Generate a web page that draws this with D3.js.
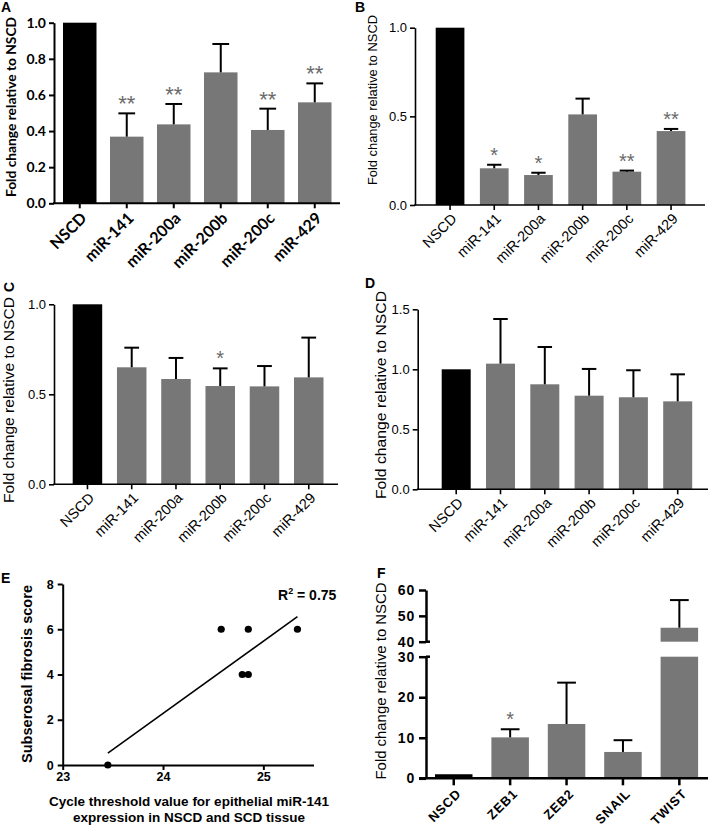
<!DOCTYPE html>
<html><head><meta charset="utf-8">
<script src="https://cdn.jsdelivr.net/npm/d3@7"></script>
<style>body{margin:0;background:#fff}svg{display:block}</style>
</head><body>
<svg id="chart" width="709" height="828"></svg>
<script>
// ---------- DATA ----------
const mirCats = ["NSCD", "miR-141", "miR-200a", "miR-200b", "miR-200c", "miR-429"];
const aMean = [1, 0.369, 0.437, 0.725, 0.406, 0.559];
const aSem  = [0, 0.129, 0.113, 0.157, 0.118, 0.105];
const aSig  = ["", "**", "**", "", "**", "**"];
const aTicks = [0, 0.2, 0.4, 0.6, 0.8, 1.0];

const bMean = [1, 0.207, 0.169, 0.511, 0.188, 0.417];
const bSem  = [0, 0.020, 0.013, 0.089, 0.006, 0.012];
const bSig  = ["", "*", "*", "", "**", "**"];
const bTicks = [0, 0.5, 1.0];

const cMean = [1, 0.650, 0.585, 0.546, 0.544, 0.594];
const cSem  = [0, 0.109, 0.117, 0.098, 0.113, 0.221];
const cSig  = ["", "", "", "*", "", ""];
const cTicks = [0, 0.5, 1.0];

const dMean = [1, 1.047, 0.875, 0.780, 0.767, 0.733];
const dSem  = [0, 0.372, 0.311, 0.223, 0.225, 0.225];
const dSig  = ["", "", "", "", "", ""];
const dTicks = [0, 0.5, 1.0, 1.5];

const eCt    = [23.45, 24.58, 24.79, 24.85, 24.85, 25.34];
const eScore = [0, 6, 4, 4, 6, 6];
const eXTicks = [23, 24, 25];
const eYTicks = [0, 2, 4, 6, 8];

const fCats = ["NSCD", "ZEB1", "ZEB2", "SNAIL", "TWIST"];
const fMean = [1, 10.1, 13.4, 6.5, 45.4];
const fSem  = [0, 2.0, 10.2, 2.9, 10.7];
const fSig  = ["", "*", "", "", ""];
const fLowTicks = [0, 10, 20, 30];
const fHighTicks = [40, 50, 60];

// ---------- DRAW ----------
const svg = d3.select("#chart");
const GRAY = "#777777";
const ARIAL = "'Liberation Sans', Arial, Helvetica, sans-serif";
const GILL = "Lato, 'Open Sans', sans-serif";
const YLAB = "Fold change relative to NSCD";

function bandFor(cats, b0, step, w) {
  const pin = (step - w) / step;
  const start = b0 - (step - w) / 2;
  return d3.scaleBand().domain(cats).range([start, start + cats.length * step])
    .paddingInner(pin).paddingOuter(pin / 2);
}

function yLabel(g, x, y, len, font, weight, size, text) {
  g.append("text").attr("transform", `translate(${x},${y}) rotate(-90)`)
    .attr("text-anchor", "middle").attr("fill", "#000")
    .attr("textLength", len).attr("lengthAdjust", "spacingAndGlyphs")
    .style("font-family", font).style("font-weight", weight).style("font-size", size + "px")
    .text(text);
}

function barPanel(c) {
  const g = svg.append("g");
  const y = d3.scaleLinear().domain([0, c.max]).range([c.yBot, c.yTop]);
  const x = bandFor(c.cats, c.b0, c.step, c.w);
  g.selectAll("rect.bar").data(c.cats).join("rect")
    .attr("x", d => x(d)).attr("width", x.bandwidth())
    .attr("y", (d, i) => y(c.mean[i])).attr("height", (d, i) => y(0) - y(c.mean[i]))
    .attr("fill", (d, i) => i === 0 ? "#000" : GRAY);
  const items = c.cats.map((d, i) => ({d, i}));
  const eb = g.selectAll("g.eb").data(items.filter(o => c.sem[o.i] > 0)).join("g");
  eb.append("line")
    .attr("x1", o => x(o.d) + x.bandwidth() / 2).attr("x2", o => x(o.d) + x.bandwidth() / 2)
    .attr("y1", o => y(c.mean[o.i])).attr("y2", o => y(c.mean[o.i] + c.sem[o.i]))
    .attr("stroke", "#000").attr("stroke-width", c.ew);
  eb.append("line")
    .attr("x1", o => x(o.d) + x.bandwidth() * 0.25).attr("x2", o => x(o.d) + x.bandwidth() * 0.75)
    .attr("y1", o => y(c.mean[o.i] + c.sem[o.i])).attr("y2", o => y(c.mean[o.i] + c.sem[o.i]))
    .attr("stroke", "#000").attr("stroke-width", c.ew);
  g.selectAll("text.sig").data(items.filter(o => c.sig[o.i])).join("text")
    .attr("x", o => x(o.d) + x.bandwidth() / 2)
    .attr("y", o => y(c.mean[o.i] + c.sem[o.i]) + c.sigOff)
    .attr("text-anchor", "middle").attr("fill", "#6a6a6a")
    .style("font-family", ARIAL).style("font-size", c.sigSize + "px")
    .text(o => c.sig[o.i]);
  const ya = g.append("g").attr("transform", `translate(${c.x0},0)`)
    .call(d3.axisLeft(y).tickValues(c.ticks).tickFormat(d3.format(".1f")).tickSize(c.tl).tickSizeOuter(0).tickPadding(c.tp));
  ya.selectAll("path,line").attr("stroke", "#000").attr("stroke-width", c.aw);
  ya.selectAll("text").attr("fill", "#000").style("font-family", c.font).style("font-weight", c.tw)
    .style("font-size", c.ts + "px");
  const xa = g.append("g").attr("transform", `translate(0,${c.yBot})`)
    .call(d3.axisBottom(x).tickSize(c.tl).tickSizeOuter(0));
  xa.select("path").remove();
  xa.selectAll("line").attr("stroke", "#000").attr("stroke-width", c.aw);
  xa.selectAll("text").attr("x", 0).attr("y", 0).attr("dy", "0.35em")
    .attr("text-anchor", "end").attr("fill", "#000")
    .attr("transform", `translate(${c.lx},${c.ly}) rotate(-45)`)
    .style("font-family", c.font).style("font-weight", c.tw).style("font-size", c.xs + "px");
  g.append("line").attr("x1", c.x0 - c.aw / 2).attr("x2", c.xEnd).attr("y1", c.yBot).attr("y2", c.yBot)
    .attr("stroke", "#000").attr("stroke-width", c.aw);
  yLabel(g, c.labX, c.labY, c.labLen, c.font, c.lw, c.ls, YLAB);
  return g;
}

// Panel A
barPanel({cats: mirCats, mean: aMean, sem: aSem, sig: aSig, ticks: aTicks, max: 1,
  x0: 54, xEnd: 340, yTop: 22.7, yBot: 203.3, b0: 63, step: 47, w: 33.5,
  font: GILL, tw: 700, ts: 14, xs: 16, lw: 700, ls: 14, tl: 5, tp: 3, aw: 2, ew: 2,
  lx: 4, ly: 12, labX: 16, labY: 107, labLen: 180, sigSize: 22, sigOff: -2});
// Panel B
barPanel({cats: mirCats, mean: bMean, sem: bSem, sig: bSig, ticks: bTicks, max: 1,
  x0: 415, xEnd: 705, yTop: 27.7, yBot: 205, b0: 435.7, step: 44.2, w: 28.7,
  font: ARIAL, tw: 400, ts: 13, xs: 14.5, lw: 400, ls: 13, tl: 5, tp: 3, aw: 1.6, ew: 2,
  lx: 4, ly: 11, labX: 377, labY: 100, labLen: 170, sigSize: 20, sigOff: -3});
// Panel C
barPanel({cats: mirCats, mean: cMean, sem: cSem, sig: cSig, ticks: cTicks, max: 1,
  x0: 54, xEnd: 338, yTop: 304.3, yBot: 484.3, b0: 72.7, step: 44.26, w: 29.5,
  font: ARIAL, tw: 400, ts: 13, xs: 14.5, lw: 400, ls: 14, tl: 5, tp: 3, aw: 1.6, ew: 2,
  lx: 4, ly: 11, labX: 14, labY: 400, labLen: 206, sigSize: 20, sigOff: -3});
// Panel D
barPanel({cats: mirCats, mean: dMean, sem: dSem, sig: dSig, ticks: dTicks, max: 1.5,
  x0: 417.7, xEnd: 708, yTop: 309.3, yBot: 489.3, b0: 441.7, step: 44.3, w: 29,
  font: ARIAL, tw: 400, ts: 13, xs: 14.5, lw: 400, ls: 14.5, tl: 5, tp: 3, aw: 1.6, ew: 2,
  lx: 4, ly: 11, labX: 386, labY: 395, labLen: 208, sigSize: 20, sigOff: -3});

// Panel E (scatter with regression)
(function () {
  const g = svg.append("g");
  const x = d3.scaleLinear().domain([23, 25.5]).range([62.7, 313.5]);
  const y = d3.scaleLinear().domain([0, 8]).range([765, 584]);
  const n = eCt.length, mx = d3.mean(eCt), my = d3.mean(eScore);
  let sxy = 0, sxx = 0;
  for (let i = 0; i < n; i++) { sxy += (eCt[i] - mx) * (eScore[i] - my); sxx += (eCt[i] - mx) ** 2; }
  const slope = sxy / sxx, icpt = my - slope * mx;
  const [xmin, xmax] = d3.extent(eCt);
  g.append("line").attr("x1", x(xmin)).attr("x2", x(xmax))
    .attr("y1", y(icpt + slope * xmin)).attr("y2", y(icpt + slope * xmax))
    .attr("stroke", "#000").attr("stroke-width", 1.6);
  const ya = g.append("g").attr("transform", "translate(62.7,0)")
    .call(d3.axisLeft(y).tickValues(eYTicks).tickFormat(d3.format("d")).tickSize(5).tickSizeOuter(0).tickPadding(4));
  const xa = g.append("g").attr("transform", "translate(0,765)")
    .call(d3.axisBottom(x).tickValues(eXTicks).tickFormat(d3.format("d")).tickSize(5).tickSizeOuter(0).tickPadding(2));
  [ya, xa].forEach(a => {
    a.selectAll("path,line").attr("stroke", "#000").attr("stroke-width", 2);
    a.selectAll("text").attr("fill", "#000").style("font-family", ARIAL).style("font-weight", 700).style("font-size", "12.5px");
  });
  g.selectAll("circle").data(eCt).join("circle")
    .attr("cx", d => x(d)).attr("cy", (d, i) => y(eScore[i])).attr("r", 3.6).attr("fill", "#000");
  const r2 = g.append("text").attr("x", 278).attr("y", 600).attr("fill", "#000")
    .style("font-family", ARIAL).style("font-weight", 700).style("font-size", "14px");
  r2.append("tspan").text("R");
  r2.append("tspan").attr("dy", -6).style("font-size", "9px").text("2");
  r2.append("tspan").attr("dy", 6).text(" = 0.75");
  g.append("text").attr("x", 189).attr("y", 806).attr("text-anchor", "middle").attr("fill", "#000")
    .style("font-family", ARIAL).style("font-weight", 700).style("font-size", "13.5px")
    .text("Cycle threshold value for epithelial miR-141");
  g.append("text").attr("x", 189).attr("y", 821.5).attr("text-anchor", "middle").attr("fill", "#000")
    .style("font-family", ARIAL).style("font-weight", 700).style("font-size", "13.5px")
    .text("expression in NSCD and SCD tissue");
  yLabel(g, 32, 674, 178, ARIAL, 700, 14.5, "Subserosal fibrosis score");
})();

// Panel F (broken axis)
(function () {
  const g = svg.append("g");
  const ax = 426, yb = 778.3;
  const x = bandFor(fCats, 435, 56.4, 37.5);
  const yLow = d3.scaleLinear().domain([0, 30]).range([yb, 656.7]);
  const yHigh = d3.scaleLinear().domain([40, 60]).range([641.7, 590]);
  fCats.forEach((c, i) => {
    const m = fMean[i], top = m + fSem[i], cx = x(c) + x.bandwidth() / 2;
    const fill = i === 0 ? "#000" : GRAY;
    g.append("rect").attr("x", x(c)).attr("width", x.bandwidth())
      .attr("y", yLow(Math.min(m, 30))).attr("height", yLow(0) - yLow(Math.min(m, 30))).attr("fill", fill);
    const ys = m > 40 ? yHigh : yLow;
    if (m > 40) {
      g.append("rect").attr("x", x(c)).attr("width", x.bandwidth())
        .attr("y", yHigh(m)).attr("height", yHigh(40) - yHigh(m)).attr("fill", fill);
    }
    if (fSem[i] > 0) {
      g.append("line").attr("x1", cx).attr("x2", cx).attr("y1", ys(m)).attr("y2", ys(top))
        .attr("stroke", "#000").attr("stroke-width", 2);
      g.append("line").attr("x1", cx - x.bandwidth() * 0.25).attr("x2", cx + x.bandwidth() * 0.25)
        .attr("y1", ys(top)).attr("y2", ys(top)).attr("stroke", "#000").attr("stroke-width", 2);
    }
    if (fSig[i]) {
      g.append("text").attr("x", cx).attr("y", ys(top) - 3).attr("text-anchor", "middle")
        .attr("fill", "#6a6a6a").style("font-family", ARIAL).style("font-size", "20px").text(fSig[i]);
    }
  });
  const styleAxis = a => {
    a.selectAll("path,line").attr("stroke", "#000").attr("stroke-width", 2.5);
    a.selectAll("text").attr("fill", "#000").style("font-family", ARIAL).style("font-weight", 700)
      .style("font-size", "14px").style("letter-spacing", "0.8px");
  };
  styleAxis(g.append("g").attr("transform", `translate(${ax},0)`)
    .call(d3.axisLeft(yLow).tickValues(fLowTicks).tickSize(7).tickSizeOuter(0).tickPadding(4)));
  styleAxis(g.append("g").attr("transform", `translate(${ax},0)`)
    .call(d3.axisLeft(yHigh).tickValues(fHighTicks).tickSize(7).tickSizeOuter(0).tickPadding(4)));
  [yLow(30), yHigh(40)].forEach(v => g.append("line").attr("x1", ax).attr("x2", ax + 4)
    .attr("y1", v).attr("y2", v).attr("stroke", "#000").attr("stroke-width", 2.5));
  const xa = g.append("g").attr("transform", `translate(0,${yb})`)
    .call(d3.axisBottom(x).tickSize(7).tickSizeOuter(0));
  xa.select("path").remove();
  xa.selectAll("line").attr("stroke", "#000").attr("stroke-width", 2.5);
  xa.selectAll("text").attr("x", 0).attr("y", 0).attr("dy", "0.35em").attr("text-anchor", "end").attr("fill", "#000")
    .attr("transform", "translate(5,13) rotate(-45)")
    .style("font-family", ARIAL).style("font-weight", 700).style("font-size", "13px").style("letter-spacing", "0.8px");
  g.append("line").attr("x1", ax - 7).attr("x2", 708).attr("y1", yb).attr("y2", yb)
    .attr("stroke", "#000").attr("stroke-width", 2.5);
  yLabel(g, 386, 681, 197, ARIAL, 400, 14, YLAB);
})();

// Panel letters
const letters = [
  {t: "A", x: 1, y: 12, r: 0}, {t: "B", x: 355, y: 12, r: 0},
  {t: "C", x: 14, y: 292, r: -90}, {t: "D", x: 365, y: 288, r: 0},
  {t: "E", x: 1, y: 583, r: 0}, {t: "F", x: 377, y: 578, r: 0}
];
svg.selectAll("text.panel").data(letters).join("text").attr("class", "panel")
  .attr("transform", d => `translate(${d.x},${d.y}) rotate(${d.r})`)
  .attr("fill", "#000").style("font-family", ARIAL).style("font-weight", 700).style("font-size", "14px")
  .text(d => d.t);
</script>
</body></html>
